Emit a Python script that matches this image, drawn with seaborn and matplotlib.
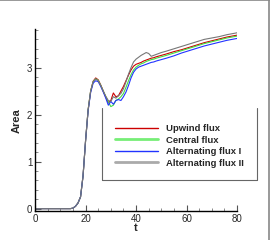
import numpy as np
import pandas as pd
import seaborn as sns
import matplotlib
matplotlib.use("Agg")
import matplotlib.pyplot as plt
from matplotlib.lines import Line2D
from matplotlib.ticker import MultipleLocator

t = [0, 10, 14, 15, 16, 17, 18, 19, 20, 21, 22, 23, 24, 25, 26, 27, 28, 29, 30,
     31, 32, 33, 34, 35, 36, 37, 38, 39, 40, 41, 42, 43, 44, 45, 46, 47, 48, 50,
     52, 55, 58, 61, 64, 67, 70, 73, 76, 80]

upwind = [0, 0, 0.0, 0.01, 0.05, 0.12, 0.25, 0.7, 1.45, 2.1, 2.5, 2.71, 2.78, 2.74,
          2.63, 2.5, 2.37, 2.25, 2.3, 2.46, 2.38, 2.4, 2.5, 2.6, 2.72, 2.84, 2.95,
          3.03, 3.07, 3.09, 3.11, 3.14, 3.16, 3.18, 3.2, 3.21, 3.23, 3.26, 3.29,
          3.34, 3.38, 3.43, 3.48, 3.53, 3.57, 3.61, 3.65, 3.69]
central = [0, 0, 0.0, 0.01, 0.05, 0.12, 0.25, 0.7, 1.45, 2.1, 2.5, 2.7, 2.76, 2.73,
           2.62, 2.5, 2.38, 2.27, 2.17, 2.2, 2.3, 2.33, 2.38, 2.45, 2.58, 2.72, 2.85,
           2.95, 3.01, 3.05, 3.08, 3.1, 3.13, 3.15, 3.17, 3.18, 3.2, 3.23, 3.26,
           3.31, 3.36, 3.41, 3.46, 3.51, 3.55, 3.59, 3.63, 3.67]
alt1 = [0, 0, 0.0, 0.01, 0.05, 0.12, 0.25, 0.7, 1.45, 2.08, 2.47, 2.67, 2.72, 2.7,
        2.6, 2.48, 2.35, 2.2, 2.28, 2.22, 2.3, 2.32, 2.3, 2.38, 2.48, 2.62, 2.78,
        2.9, 2.97, 3.01, 3.03, 3.05, 3.07, 3.09, 3.11, 3.12, 3.14, 3.17, 3.2,
        3.25, 3.31, 3.36, 3.41, 3.46, 3.5, 3.54, 3.58, 3.62]
alt2 = [0, 0, 0.0, 0.01, 0.05, 0.12, 0.25, 0.7, 1.45, 2.1, 2.5, 2.7, 2.76, 2.72,
        2.62, 2.5, 2.39, 2.3, 2.28, 2.38, 2.35, 2.4, 2.45, 2.55, 2.7, 2.86, 3.0,
        3.12, 3.18, 3.22, 3.26, 3.29, 3.32, 3.3, 3.24, 3.26, 3.28, 3.32, 3.35,
        3.4, 3.45, 3.5, 3.55, 3.6, 3.63, 3.66, 3.7, 3.74]

labels = ["Upwind flux", "Central flux", "Alternating flux I", "Alternating flux II"]
colors = ["#cc0000", "#44dd44", "#2233ff", "#777777"]

df = pd.concat([
    pd.DataFrame({"t": t, "Area": v, "Scheme": lab})
    for v, lab in zip([upwind, central, alt1, alt2], labels)
])

sns.set_style("white")
plt.rcParams["font.family"] = ["Liberation Sans", "DejaVu Sans"]

fig = plt.figure(figsize=(2.7, 2.4), dpi=100)
ax = fig.add_axes([0.13, 0.119, 0.748, 0.76])
sns.lineplot(data=df, x="t", y="Area", hue="Scheme", palette=colors,
             hue_order=labels, linewidth=0.8, ax=ax, legend=False)

ax.set_xlim(0, 80)
ax.set_ylim(-0.06, 3.82)
ax.xaxis.set_major_locator(MultipleLocator(20))
ax.xaxis.set_minor_locator(MultipleLocator(5))
ax.yaxis.set_major_locator(MultipleLocator(1))
ax.yaxis.set_minor_locator(MultipleLocator(0.2))
ax.tick_params(axis="both", which="major", direction="in", length=4, width=0.8,
               labelsize=7, pad=2, color="#555555")
ax.tick_params(axis="both", which="minor", direction="in", length=2, width=0.6,
               color="#777777")
ax.tick_params(axis="x", bottom=True, which="both")
ax.tick_params(axis="y", left=True, which="both")
for s in ["top", "right"]:
    ax.spines[s].set_visible(False)
for s in ["left", "bottom"]:
    ax.spines[s].set_color("black")
    ax.spines[s].set_linewidth(1.0)
ax.set_xlabel("t", fontsize=8, fontweight="bold", labelpad=-1)
ax.set_ylabel("Area", fontsize=8, fontweight="bold", labelpad=4)

handles = [Line2D([], [], color=c, lw=lw) for c, lw in
           zip(["#cc0000", "#77ee77", "#2233ff", "#aaaaaa"], [1.0, 2.0, 1.0, 2.0])]
leg = fig.legend(handles, labels, loc="center left",
                 bbox_to_anchor=(115 / 270, 1 - 146 / 240), frameon=False,
                 prop={"weight": "bold", "size": 6.8}, handlelength=4.6,
                 handletextpad=0.75, labelspacing=0.26, borderpad=0,
                 borderaxespad=0)

# legend box (left, bottom, right edges)
bx0, bx1 = 102 / 270, 257 / 270
by0, by1 = 1 - 180 / 240, 1 - 108 / 240
for xs, ys in [([bx0, bx0], [by1, by0]), ([bx0, bx1], [by0, by0]),
               ([bx1, bx1], [by0, by1])]:
    fig.add_artist(Line2D(xs, ys, transform=fig.transFigure, color="#666666",
                          lw=0.8))

# figure border (top and right)
fig.add_artist(Line2D([0, 1], [0.998, 0.998], transform=fig.transFigure,
                      color="#888888", lw=1.2))
fig.add_artist(Line2D([0.997, 0.997], [0, 1], transform=fig.transFigure,
                      color="#888888", lw=1.2))

fig.savefig("out.png", dpi=100)
